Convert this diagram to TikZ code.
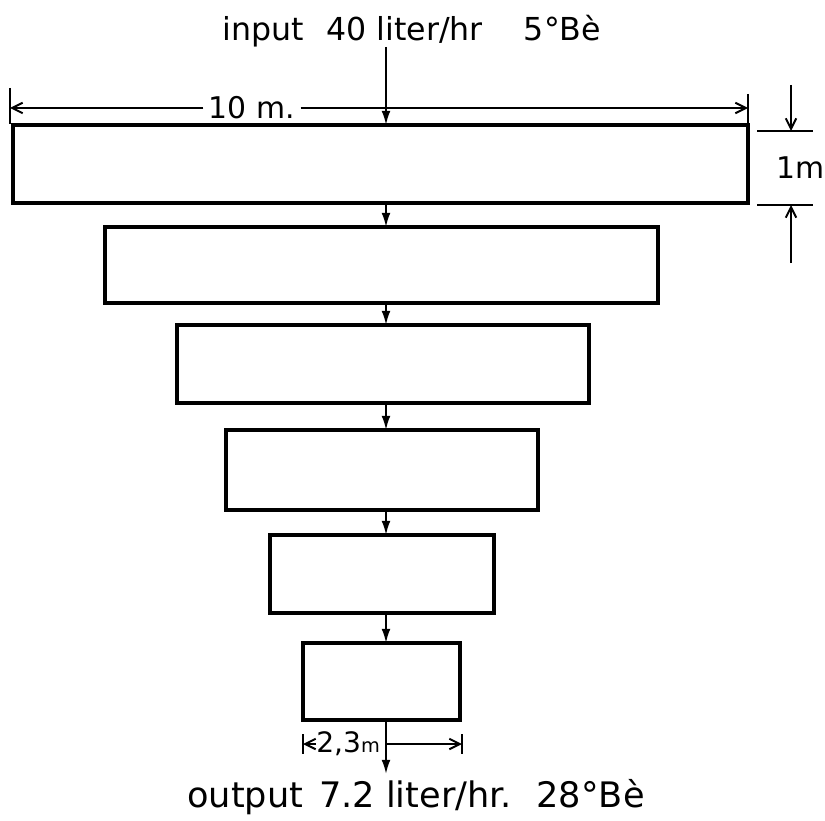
\documentclass[tikz,border=0pt]{standalone}
\usepackage{fontspec}
\setmainfont{DejaVu Sans}
\usetikzlibrary{arrows.meta, positioning}

\begin{document}
\begin{tikzpicture}[
      x=0.02cm, y=-0.02cm,
      tank/.style={draw, line width=2pt, inner sep=0pt, outer sep=0pt},
      flow/.style={line width=1.1pt, -{Latex[length=8pt, width=5pt]}},
      dim/.style={line width=1.1pt},
      dimarrow/.style={dim, -{Straight Barb[length=6pt, width=6pt]}},
      lbl/.style={inner sep=0pt, font=\fontsize{18}{22}\selectfont},
      dimlbl/.style={inner sep=3pt, font=\fontsize{17}{20}\selectfont}
    ]
  \useasboundingbox (0,0) rectangle (825,821);
  \coordinate (ax) at (386,0);
  \node[tank, minimum width=14.7cm, minimum height=1.56cm] (b1) at (380.5,164) {};
  \node[tank, minimum width=11.06cm, minimum height=1.52cm] (b2) at (381.5,265) {};
  \node[tank, minimum width=8.24cm, minimum height=1.56cm] (b3) at (383,364) {};
  \node[tank, minimum width=6.24cm, minimum height=1.6cm] (b4) at (382,470) {};
  \node[tank, minimum width=4.48cm, minimum height=1.56cm] (b5) at (382,574) {};
  \node[tank, minimum width=3.14cm, minimum height=1.54cm] (b6) at (381.5,681.5) {};
  \foreach \a/\b in {b1/b2, b2/b3, b3/b4, b4/b5, b5/b6}
    \draw[flow] (\a.south -| ax) -- (\b.north -| ax);

  \node[lbl] (in) at (412,31) {input\hspace{0.7em}40 liter/hr\hspace{1.3em}5°Bè};
  \coordinate (intop) at (386,47);
  \draw[flow] (intop) -- (b1.north -| ax);
  \node[lbl, font=\fontsize{20}{24}\selectfont] (out) at (416,797) {output\hspace{0.45em}7.2 liter/hr.\hspace{0.7em}28°Bè};
  \coordinate (outend) at (386,774);
  \draw[flow] (b6.south -| ax) -- (outend);

  \coordinate (dl) at (10,108);
  \coordinate (dr) at (748,108);
  \draw[dim] (dl) ++(0,-20) -- ++(0,36);
  \draw[dim] (dr) ++(0,-14) -- ++(0,30);
  \node[dimlbl] (wlab) at (252,108) {10 m.};
  \draw[dimarrow] (wlab.west) -- (dl);
  \draw[dimarrow] (wlab.east) -- (dr);

  \coordinate (ht) at (791,131);
  \coordinate (hb) at (791,205);
  \coordinate (htop) at (791,85);
  \coordinate (hbot) at (791,263);
  \draw[dim] (ht) ++(-34,0) -- ++(56,0);
  \draw[dim] (hb) ++(-34,0) -- ++(56,0);
  \draw[dimarrow] (htop) -- (ht);
  \draw[dimarrow] (hbot) -- (hb);
  \node[dimlbl, inner sep=0pt] (hlab) at (801,168) {1m};

  \coordinate (sl) at (303,744);
  \coordinate (sr) at (462,744);
  \draw[dim] (sl) ++(0,-10) -- ++(0,20);
  \draw[dim] (sr) ++(0,-10) -- ++(0,20);
  \node[inner sep=0pt, anchor=west, font=\fontsize{16}{18}\selectfont] (slab) at (316,744) {2,3{\fontsize{11}{12}\selectfont m}};
  \draw[dimarrow] (slab.west) -- (sl);
  \draw[dimarrow] (sl -| ax) -- (sr);
\end{tikzpicture}
\end{document}
